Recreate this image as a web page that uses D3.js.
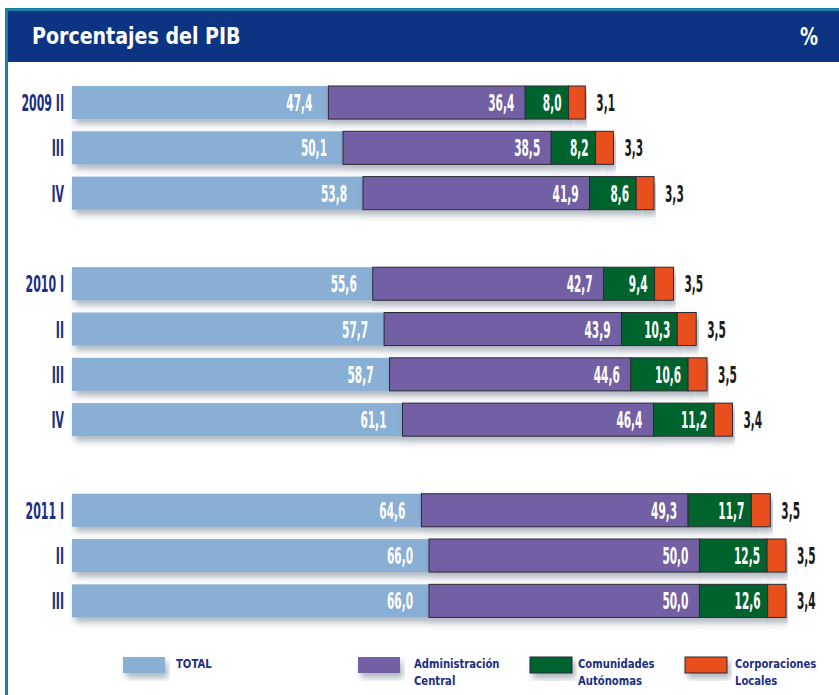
<!DOCTYPE html>
<html>
<head>
<meta charset="utf-8">
<script src="https://cdn.jsdelivr.net/npm/d3@7"></script>
<style>
  body { margin: 0; background: #fff; }
  svg { display: block; }
  text { font-family: "DejaVu Sans Condensed", "DejaVu Sans", sans-serif; font-weight: bold; }
</style>
</head>
<body>
<div id="chart"></div>
<script>
// periods (blank slots separate the years)
var slots = ["2009 II", "2009 III", "2009 IV", "gap1", "2010 I", "2010 II", "2010 III", "2010 IV", "gap2", "2011 I", "2011 II", "2011 III"];
var periods = ["2009 II", "2009 III", "2009 IV", "2010 I", "2010 II", "2010 III", "2010 IV", "2011 I", "2011 II", "2011 III"];
var periodLabels = ["2009 II", "III", "IV", "2010 I", "II", "III", "IV", "2011 I", "II", "III"];

var total = [47.4, 50.1, 53.8, 55.6, 57.7, 58.7, 61.1, 64.6, 66.0, 66.0];
var adminCentral = [36.4, 38.5, 41.9, 42.7, 43.9, 44.6, 46.4, 49.3, 50.0, 50.0];
var comunidades = [8.0, 8.2, 8.6, 9.4, 10.3, 10.6, 11.2, 11.7, 12.5, 12.6];
var corporaciones = [3.1, 3.3, 3.3, 3.5, 3.5, 3.5, 3.4, 3.5, 3.5, 3.4];

var width = 839, height = 695;
var navy = "#0d3383";
var labelNavy = "#1b2f85";
var colors = { total: "#8aafd4", admin: "#735ea3", ccaa: "#00642f", ccll: "#e8501e" };

var fmt = function (v) { return v.toFixed(1).replace(".", ","); };

var svg = d3.select("#chart").append("svg")
    .attr("width", width)
    .attr("height", height);

var defs = svg.append("defs");
var shadow = defs.append("filter").attr("id", "shadow")
    .attr("x", "-5%").attr("y", "-30%").attr("width", "115%").attr("height", "180%");
shadow.append("feDropShadow")
    .attr("dx", 3).attr("dy", 5).attr("stdDeviation", 3)
    .attr("flood-color", "#3a4a60").attr("flood-opacity", 0.4);

// frame: teal line on top and left
svg.append("rect").attr("x", 5).attr("y", 8).attr("width", width - 5).attr("height", 3).attr("fill", "#1b7fa3");
svg.append("rect").attr("x", 5).attr("y", 8).attr("width", 3).attr("height", height - 8).attr("fill", "#1b7fa3");

// header
svg.append("rect").attr("x", 8).attr("y", 11).attr("width", width - 8).attr("height", 51).attr("fill", navy);
svg.append("text")
    .attr("transform", "translate(32,44) scale(0.92,1)")
    .attr("fill", "#fff").attr("font-size", 23)
    .text("Porcentajes del PIB");
svg.append("text")
    .attr("transform", "translate(818,45) scale(0.8,1)")
    .attr("text-anchor", "end")
    .attr("fill", "#fff").attr("font-size", 25)
    .text("%");

// scales
var x = d3.scaleLinear().domain([0, 132]).range([72, 786]);
var y = d3.scaleBand().domain(slots).range([86, 617.4]).paddingInner(0.27).paddingOuter(0);

var rows = periods.map(function (p, i) {
    var t = total[i], a = adminCentral[i], c = comunidades[i], l = corporaciones[i];
    return {
        key: p, label: periodLabels[i],
        segs: [
            { k: "total", x0: 0, x1: t, v: t },
            { k: "admin", x0: t, x1: t + a, v: a },
            { k: "ccaa", x0: t + a, x1: t + a + c, v: c },
            { k: "ccll", x0: t + a + c, x1: t + a + c + l, v: l }
        ]
    };
});

var row = svg.selectAll(".row")
    .data(rows)
    .enter().append("g")
    .attr("class", "row")
    .attr("transform", function (d) { return "translate(0," + y(d.key) + ")"; });

var bh = y.bandwidth();

row.selectAll("rect")
    .data(function (d) { return d.segs; })
    .enter().append("rect")
    .attr("x", function (d) { return x(d.x0); })
    .attr("y", 0)
    .attr("width", function (d) { return x(d.x1) - x(d.x0); })
    .attr("height", bh)
    .attr("fill", function (d) { return colors[d.k]; })
    .attr("stroke", function (d) { return d.k == "total" ? "none" : "#2b2b33"; })
    .attr("stroke-width", 1)
    .attr("filter", "url(#shadow)");

// value labels
row.selectAll(".val")
    .data(function (d) { return d.segs; })
    .enter().append("text")
    .attr("class", "val")
    .attr("transform", function (d) {
        var px;
        if (d.k == "total") px = x(d.x1) - 16;
        else if (d.k == "admin") px = x(d.x1) - 11;
        else if (d.k == "ccaa") px = x(d.x1) - 7;
        else px = x(d.x1) + 11;
        return "translate(" + px + "," + (bh / 2 + 8.5) + ") scale(0.5,1)";
    })
    .attr("text-anchor", function (d) { return d.k == "ccll" ? "start" : "end"; })
    .attr("fill", function (d) { return d.k == "ccll" ? "#1a1a1a" : "#fff"; })
    .attr("font-size", 23.5)
    .text(function (d) { return fmt(d.v); });

// period labels
row.append("text")
    .attr("transform", "translate(64," + (bh / 2 + 8.5) + ") scale(0.52,1)")
    .attr("text-anchor", "end")
    .attr("fill", labelNavy)
    .attr("font-size", 23.5)
    .text(function (d) { return d.label; });

// legend
var legendItems = [
    { k: "total", x: 123, lines: ["TOTAL"], tx: 176 },
    { k: "admin", x: 358, lines: ["Administración", "Central"], tx: 414 },
    { k: "ccaa", x: 530, lines: ["Comunidades", "Autónomas"], tx: 578 },
    { k: "ccll", x: 685, lines: ["Corporaciones", "Locales"], tx: 735 }
];

var legend = svg.selectAll(".D3Legend")
    .data(legendItems)
    .enter().append("g")
    .attr("class", "D3Legend");

legend.append("rect")
    .attr("x", function (d) { return d.x; })
    .attr("y", 657)
    .attr("width", 42)
    .attr("height", 16)
    .attr("fill", function (d) { return colors[d.k]; })
    .attr("stroke", function (d) { return d.k == "total" || d.k == "admin" ? "none" : "#2b2b33"; })
    .attr("filter", "url(#shadow)");

legend.each(function (d) {
    var g = d3.select(this);
    d.lines.forEach(function (line, i) {
        g.append("text")
            .attr("transform", "translate(" + d.tx + "," + (668 + i * 17) + ") scale(0.86,1)")
            .attr("fill", labelNavy)
            .attr("font-size", 13)
            .text(line);
    });
});
</script>
</body>
</html>
